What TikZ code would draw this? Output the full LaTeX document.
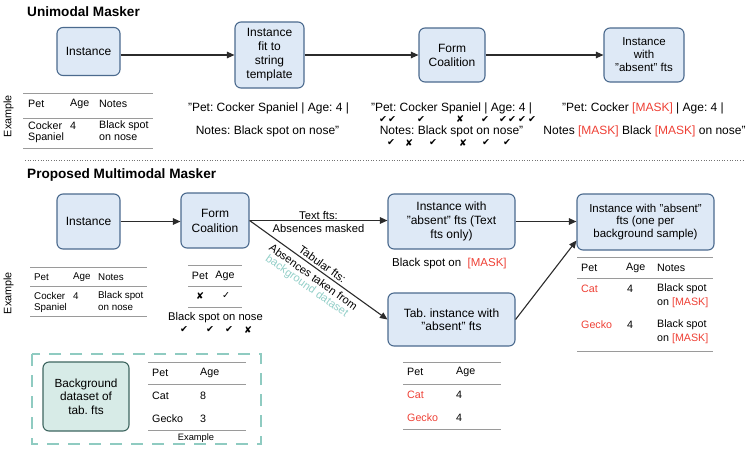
\documentclass[tikz,border=0pt]{standalone}
\usepackage{fontspec}
\setmainfont{Liberation Sans}
\newfontfamily\symf{DejaVu Sans}
\usetikzlibrary{arrows.meta,calc}
\definecolor{boxfill}{HTML}{DEE9F6}
\definecolor{boxdraw}{HTML}{4B6A8E}
\definecolor{bgfill}{HTML}{D7EBE7}
\definecolor{bgdraw}{HTML}{3E6660}
\definecolor{tealdash}{HTML}{8FCBC1}
\definecolor{tealtext}{HTML}{93CFC8}
\definecolor{maskred}{HTML}{EE4035}
\definecolor{arrowc}{HTML}{2B2B2B}
\definecolor{rulec}{HTML}{9A9A9A}
\newcommand{\msk}{{\color{maskred}[MASK]}}
\newcommand{\ck}{{\symf\char"2714}}
\newcommand{\xk}{{\symf\char"2718}}
\newcommand{\lck}{{\symf\char"2713}}
\frenchspacing
\begin{document}
\frenchspacing
\begin{tikzpicture}[x=1pt,y=-1pt,
  blk/.style={draw=boxdraw, fill=boxfill, rounded corners=6pt, line width=1.1pt,
    align=center, inner sep=1pt, font=\fontsize{12}{14}\selectfont},
  bgblk/.style={blk, draw=bgdraw, fill=bgfill},
  arr/.style={-{Triangle[length=7.5pt,width=6.5pt]}, line width=1.1pt, draw=arrowc},
  ttl/.style={anchor=west, inner sep=0, font=\bfseries\fontsize{13.6}{16}\selectfont},
  quote/.style={inner sep=0, font=\fontsize{12}{14}\selectfont},
  cell/.style={anchor=west, inner sep=0, font=\fontsize{10.7}{12}\selectfont},
  scell/.style={anchor=west, inner sep=0, font=\fontsize{9.8}{11}\selectfont},
  rul/.style={draw=rulec, line width=0.9pt},
  mk/.style={inner sep=0, font=\fontsize{9.5}{10}\selectfont},
  exlab/.style={rotate=90, inner sep=0, font=\fontsize{10.8}{12}\selectfont},
  dlab/.style={rotate=-35.4, inner sep=0, align=center, font=\fontsize{11.2}{10.6}\selectfont}
]
\useasboundingbox (0,0) rectangle (750,451);

% ---------------- Unimodal ----------------
\node[ttl] (t1) at (27,12) {Unimodal Masker};
\node[blk, minimum width=63pt, minimum height=48pt] (inst1) at (88.5,51.5) {Instance};
\node[blk, minimum width=69pt, minimum height=66pt] (fit) at (269.5,55) {Instance\\fit to\\string\\template};
\node[blk, minimum width=66pt, minimum height=54pt] (coal1) at (452,55) {Form\\Coalition};
\node[blk, minimum width=80pt, minimum height=54pt, font=\fontsize{11.5}{13}\selectfont] (abs1) at (644,55) {Instance\\with\\"absent" fts};
\draw[arr] (inst1.east |- fit.west) -- (fit.west);
\draw[arr] (fit.east) -- (coal1.west);
\draw[arr] (coal1.east) -- (abs1.west);

\node[exlab] (ex1) at (8.5,116) {Example};
\draw[rul] (23,93) coordinate (r1a) -- (153,93);
\draw[rul] (23,118) -- (153,118);
\draw[rul] (23,148) -- (153,148);
\node[cell] (h1a) at (28,104) {Pet};
\node[cell] (h1b) at (70,104) {Age};
\node[cell] (h1c) at (99,104) {Notes};
\node[cell] (c1a) at (28,126) {Cocker};
\node[cell] (c1b) at (28,138) {Spaniel};
\node[cell] (c1c) at (70,126) {4};
\node[cell] (c1d) at (99,126) {Black spot};
\node[cell] (c1e) at (99,138) {on nose};

\node[quote] (q1a) at (268.5,108) {"Pet: Cocker Spaniel | Age: 4 |};
\node[quote] (q1b) at (267.5,131) {Notes: Black spot on nose"};
\node[quote] (q2a) at (451.5,108) {"Pet: Cocker Spaniel | Age: 4 |};
\node[quote] (q2b) at (451.5,131) {Notes: Black spot on nose"};
\node[quote] (q3a) at (643,108) {"Pet: Cocker \msk{} | Age: 4 |};
\node[quote] (q3b) at (644.5,131) {Notes \msk{} Black \msk{} on nose"};
\foreach \x/\n in {383/a,392/b,421/c,485/d,503/e,512/f,522/g,532/h} \node[mk] (ck1\n) at (\x,119) {\ck};
\node[mk] (xk1a) at (460,119) {\xk};
\foreach \x/\n in {391/a,433/b,486/c,507/d} \node[mk] (ck2\n) at (\x,142.5) {\ck};
\foreach \x/\n in {409/a,463/b} \node[mk] (xk2\n) at (\x,142.5) {\xk};

\draw[draw=black!55, line width=0.8pt, dash pattern=on 1pt off 1.6pt] (25,160) coordinate (sepa) -- (745,160) coordinate (sepb);

% ---------------- Multimodal ----------------
\node[ttl] (t2) at (27,175) {Proposed Multimodal Masker};
\node[blk, minimum width=63pt, minimum height=55pt] (inst2) at (88.5,221.5) {Instance};
\node[blk, minimum width=68pt, minimum height=55pt, font=\fontsize{12}{15}\selectfont] (coal2) at (215,220.5) {Form\\Coalition};
\node[blk, minimum width=127pt, minimum height=55pt] (abs2) at (451.5,221.5) {Instance with\\"absent" fts (Text\\fts only)};
\node[blk, minimum width=137pt, minimum height=56pt, font=\fontsize{11.5}{12.5}\selectfont] (absb) at (645.5,222) {Instance with "absent"\\fts (one per\\background sample)};
\node[blk, minimum width=127pt, minimum height=53pt, font=\fontsize{12}{13.5}\selectfont] (tab) at (451.5,319.5) {Tab. instance with\\"absent" fts};
\draw[arr] (inst2.east) -- (coal2.west |- inst2.east);
\draw[arr] (coal2.east) -- (abs2.west |- coal2.east);
\draw[arr] (abs2.east) -- (absb.west |- abs2.east);
\draw[arr] (coal2.east) -- (tab.west);
\draw[arr] (tab.east) -- (absb.195);

\node[quote, align=center, font=\fontsize{11.2}{13}\selectfont] (lt1) at (318.5,221.5) {Text fts:\\[0pt]Absences masked};
\node[dlab] (ld1) at (314.3,275.8) {Tabular fts:\\[5pt]Absences taken from\\{\color{tealtext}background dataset}};

\node[quote, anchor=west, font=\fontsize{11.5}{13}\selectfont] (bs) at (392,264) {Black spot on\ \ \msk};

% left table
\node[exlab] (ex2) at (8.5,293) {Example};
\draw[rul] (30,267) -- (147,267);
\draw[rul] (30,286) -- (147,286);
\draw[rul] (30,316) -- (147,316);
\node[scell] (h2a) at (34,277) {Pet};
\node[scell] (h2b) at (73,277) {Age};
\node[scell] (h2c) at (98,277) {Notes};
\node[scell] (c2a) at (34,296) {Cocker};
\node[scell] (c2b) at (34,307.5) {Spaniel};
\node[scell] (c2c) at (73,296) {4};
\node[scell] (c2d) at (98,296) {Black spot};
\node[scell] (c2e) at (98,307.5) {on nose};

% coalition table
\draw[rul] (188,265) -- (242,265);
\draw[rul] (188,286) -- (242,286);
\draw[rul] (188,307) -- (242,307);
\node[inner sep=0, font=\fontsize{10.7}{12}\selectfont] (h3a) at (200,276) {Pet};
\node[inner sep=0, font=\fontsize{10.7}{12}\selectfont] (h3b) at (225,276) {Age};
\node[mk] (x3a) at (200,295.5) {\xk};
\node[mk] (x3b) at (226,295.5) {\lck};
\node[quote, font=\fontsize{11.2}{13}\selectfont] (bsn) at (215.5,318) {Black spot on nose};
\foreach \x/\n in {184/a,210/b,229/c} \node[mk] (ck3\n) at (\x,329.5) {\ck};
\node[mk] (x3c) at (248,329.5) {\xk};

% right table
\draw[rul] (577,257) -- (713,257);
\draw[rul] (577,278) -- (713,278);
\draw[rul] (577,351) -- (713,351);
\node[cell] (h4a) at (581,268) {Pet};
\node[cell] (h4b) at (626,268) {Age};
\node[cell] (h4c) at (657,268) {Notes};
\node[cell, text=maskred] (c4a) at (581,289) {Cat};
\node[cell] (c4b) at (627,289) {4};
\node[cell] (c4c) at (657,289) {Black spot};
\node[cell] (c4d) at (657,303) {on \msk};
\node[cell, text=maskred] (c4e) at (581,325) {Gecko};
\node[cell] (c4f) at (627,325) {4};
\node[cell] (c4g) at (657,325) {Black spot};
\node[cell] (c4h) at (657,339) {on \msk};

% tab instance table
\draw[rul] (403,362) -- (501,362);
\draw[rul] (403,384) -- (501,384);
\draw[rul] (403,429) -- (501,429);
\node[cell] (h5a) at (407,372) {Pet};
\node[cell] (h5b) at (456,372) {Age};
\node[cell, text=maskred] (c5a) at (407,395) {Cat};
\node[cell] (c5b) at (456,395) {4};
\node[cell, text=maskred] (c5c) at (407,417.5) {Gecko};
\node[cell] (c5d) at (456,417.5) {4};

% background dataset
\draw[draw=tealdash, line width=1.1pt, dash pattern=on 12pt off 9pt] (32,354) rectangle (261,444);
\node[bgblk, minimum width=86pt, minimum height=69pt, font=\fontsize{11.8}{13.5}\selectfont] (bg) at (86,396.5) {Background\\dataset of\\tab. fts};
\draw[rul] (148,362) -- (246,362);
\draw[rul] (148,384) -- (246,384);
\draw[rul] (148,430) -- (246,430);
\node[cell] (h6a) at (152,373) {Pet};
\node[cell] (h6b) at (200,373) {Age};
\node[cell] (c6a) at (152,396) {Cat};
\node[cell] (c6b) at (200,396) {8};
\node[cell] (c6c) at (152,419) {Gecko};
\node[cell] (c6d) at (200,419) {3};
\node[inner sep=0, font=\fontsize{9.3}{10}\selectfont] (ex3) at (196,438) {Example};
\end{tikzpicture}
\end{document}
